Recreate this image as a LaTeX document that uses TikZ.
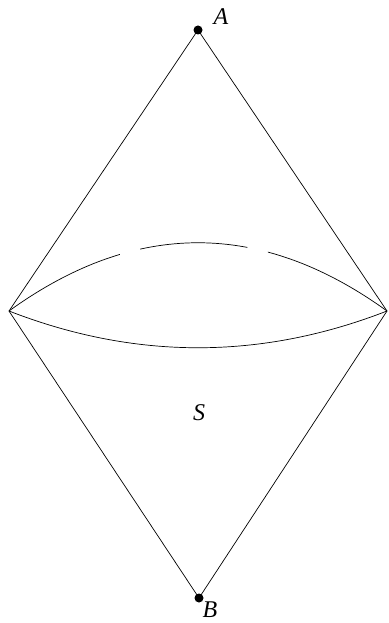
\documentclass[tikz,border=0pt]{standalone}
\usepackage{fontspec}
\setmainfont{Liberation Serif}
\usepackage{tikz}
\usetikzlibrary{positioning}

\begin{document}
\begin{tikzpicture}[x=1pt, y=-1pt,
		vdot/.style={circle, fill=black, inner sep=0pt, minimum size=9pt},
		lbl/.style={font=\fontsize{24}{28}\selectfont\itshape, inner sep=0pt},
		edge/.style={line width=0.7pt},
		gapped/.style={line width=0.7pt, dash pattern=on 125pt off 21pt on 108pt off 21pt on 300pt}
		]
		\useasboundingbox (0,0) rectangle (388,623);
		\node[vdot] (A) at (198,30) {};
		\node[vdot] (B) at (199,598) {};
		\coordinate (L) at (9,311);
		\coordinate (R) at (387,311);
		\node[lbl] (a) at (221,17) {A};
		\node[lbl] (b) at (210,610) {B};
		\node[lbl] (s) at (199,413) {S};
		
		\foreach \s/\t in {A/L, A/R, B/L, B/R}
		\draw[edge] (\s.center) -- (\t);
		
		% the two arcs between the side corners
		\draw[gapped] (L) .. controls (135,220) and (261,220) .. (R);
		\draw[edge] (L) .. controls (135,360) and (261,360) .. (R);
	\end{tikzpicture}
\end{document}
